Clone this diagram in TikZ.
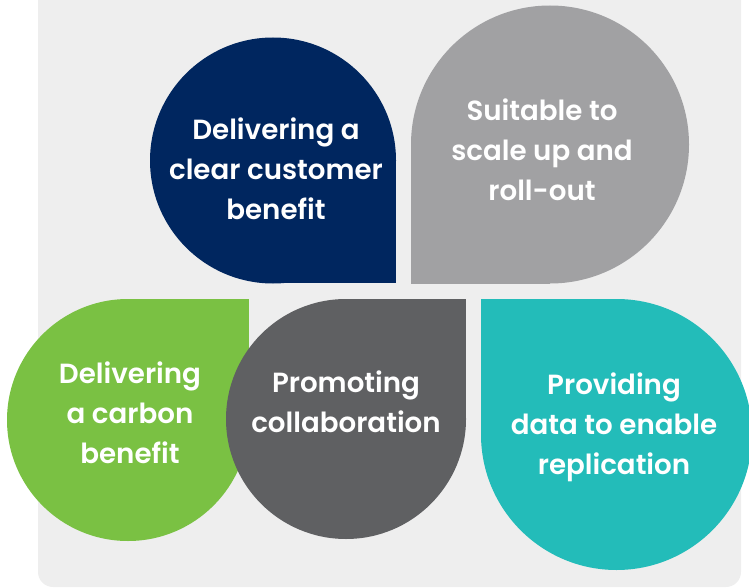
\documentclass[tikz,border=0pt]{standalone}
\usepackage{fontspec}
\setmainfont{Poppins}[UprightFont=* SemiBold]

\definecolor{panelgrey}{HTML}{EEEEEE}
\definecolor{navydrop}{HTML}{00265F}
\definecolor{silverdrop}{HTML}{A1A1A3}
\definecolor{greendrop}{HTML}{7AC143}
\definecolor{slatedrop}{HTML}{5F6062}
\definecolor{tealdrop}{HTML}{23BCB9}

\tikzset{
    drop/.style={fill=#1},
    blurb/.style={text=white, align=center, inner sep=0pt,
        font=\fontsize{27.7}{40}\selectfont},
}

\begin{document}
\begin{tikzpicture}[x=1pt, y=-1pt]
    \clip (0, 0) rectangle (749, 588);
    \useasboundingbox (0, 0) rectangle (749, 588);

    % panel behind everything
    \fill [panelgrey, rounded corners=15pt] (38, -30) rectangle (741, 587);

    % top row: each drop is a circle plus one square quarter
    \fill [drop=navydrop] (273, 160.5) circle [radius=123pt];
    \fill [drop=navydrop] (273, 160.5) rectangle (396, 283);
    \fill [drop=silverdrop] (550, 144.5) circle [radius=139pt];
    \fill [drop=silverdrop] (550, 144.5) rectangle (411, 284);

    % bottom row
    \fill [drop=greendrop] (128, 420) circle [radius=121pt];
    \fill [drop=greendrop] (128, 420) rectangle (249, 299);
    \fill [drop=slatedrop] (346, 419) circle [radius=120pt];
    \fill [drop=slatedrop] (346, 419) rectangle (466, 299);
    \fill [drop=tealdrop] (616.5, 434.5) circle [radius=135.5pt];
    \fill [drop=tealdrop] (616.5, 434.5) rectangle (481, 299);

    \node [blurb] (customer) at (276, 169) {Delivering a\\clear customer\\benefit};
    \node [blurb] (scale) at (542, 150) {Suitable to\\scale up and\\roll-out};
    \node [blurb] (carbon) at (130, 413) {Delivering\\a carbon\\benefit};
    \node [blurb] (collab) at (346, 402) {Promoting\\collaboration};
    \node [blurb] (data) at (614, 427) {Providing\\data to enable\\replication};
\end{tikzpicture}
\end{document}
